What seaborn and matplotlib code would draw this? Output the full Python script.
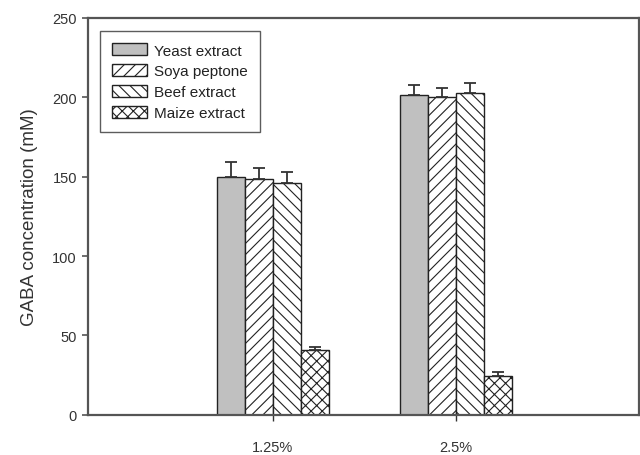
import matplotlib
matplotlib.use("Agg")
import matplotlib.pyplot as plt
import seaborn as sns
import pandas as pd
import numpy as np

# GABA production for different nitrogen sources at two concentrations
concentrations = ["1.25%", "2.5%"]
sources = ["Yeast extract", "Soya peptone", "Beef extract", "Maize extract"]
gaba_125 = [149.8, 148.3, 146.0, 40.5]
gaba_25 = [201.6, 200.1, 202.6, 24.3]
err_125 = [9.4, 7.1, 6.7, 2.2]
err_25 = [6.3, 5.9, 6.5, 2.7]

df = pd.DataFrame({
    "conc": [c for c in concentrations for _ in sources],
    "source": sources * len(concentrations),
    "gaba": gaba_125 + gaba_25,
    "err": err_125 + err_25,
})

sns.set_theme(style="ticks")
plt.rcParams["font.family"] = ["Liberation Sans", "DejaVu Sans"]
plt.rcParams["hatch.linewidth"] = 0.8
plt.rcParams["hatch.color"] = "#222222"

fig = plt.figure(figsize=(6.4, 4.56), dpi=100)
ax = fig.add_axes([88 / 640, 1 - 415.7 / 456, (639 - 88) / 640, (415.7 - 19) / 456])

fills = {"Yeast extract": "#c0c0c0", "Soya peptone": "white",
         "Beef extract": "white", "Maize extract": "white"}
hatches = {"Yeast extract": "", "Soya peptone": "///",
           "Beef extract": "\\\\\\", "Maize extract": "xxx"}

sns.barplot(data=df, x="conc", y="gaba", hue="source", hue_order=sources,
            order=concentrations, palette=fills, errorbar=None, width=0.61,
            edgecolor="#222222", linewidth=1.0, ax=ax, saturation=1)

# apply hatches and one-sided error bars bar by bar
handles = []
for src, container in zip(sources, ax.containers):
    sub = df[df["source"] == src].set_index("conc").loc[concentrations]
    xs = []
    for patch in container.patches:
        patch.set_hatch(hatches[src])
        xs.append(patch.get_x() + patch.get_width() / 2)
    handles.append(container.patches[0])
    ax.errorbar(xs, sub["gaba"].values,
                yerr=[np.zeros(len(xs)), sub["err"].values],
                fmt="none", ecolor="#333333", elinewidth=1.3,
                capsize=4.5, capthick=1.3, zorder=1)

ax.set_xlim(-1.01, 2.0)
ax.set_ylim(0, 250)
ax.set_yticks([0, 50, 100, 150, 200, 250])
ax.set_xlabel("")
ax.set_ylabel("GABA concentration (mM)", fontsize=13.5, color="#333333", labelpad=10)

for side in ["left", "bottom", "top", "right"]:
    ax.spines[side].set_visible(True)
    ax.spines[side].set_color("#555555")
    ax.spines[side].set_linewidth(1.6)

ax.tick_params(axis="y", length=4, width=1.2, color="#555555",
               labelsize=10.5, labelcolor="#333333", pad=4)
ax.tick_params(axis="x", length=4, width=1.0, color="#333333",
               labelsize=10.5, labelcolor="#333333", pad=14.5)

if ax.get_legend() is not None:
    ax.get_legend().remove()
leg = ax.legend(handles, sources, loc="upper left", bbox_to_anchor=(0.022, 0.967),
                fontsize=11, frameon=True, fancybox=False, shadow=False,
                handlelength=2.3, handleheight=0.85, handletextpad=0.45,
                labelspacing=0.42, borderpad=0.8, borderaxespad=0.0)
leg.get_frame().set_edgecolor("#333333")
leg.get_frame().set_linewidth(1.0)
for t in leg.get_texts():
    t.set_color("#222222")

fig.savefig("out.png", dpi=100)
